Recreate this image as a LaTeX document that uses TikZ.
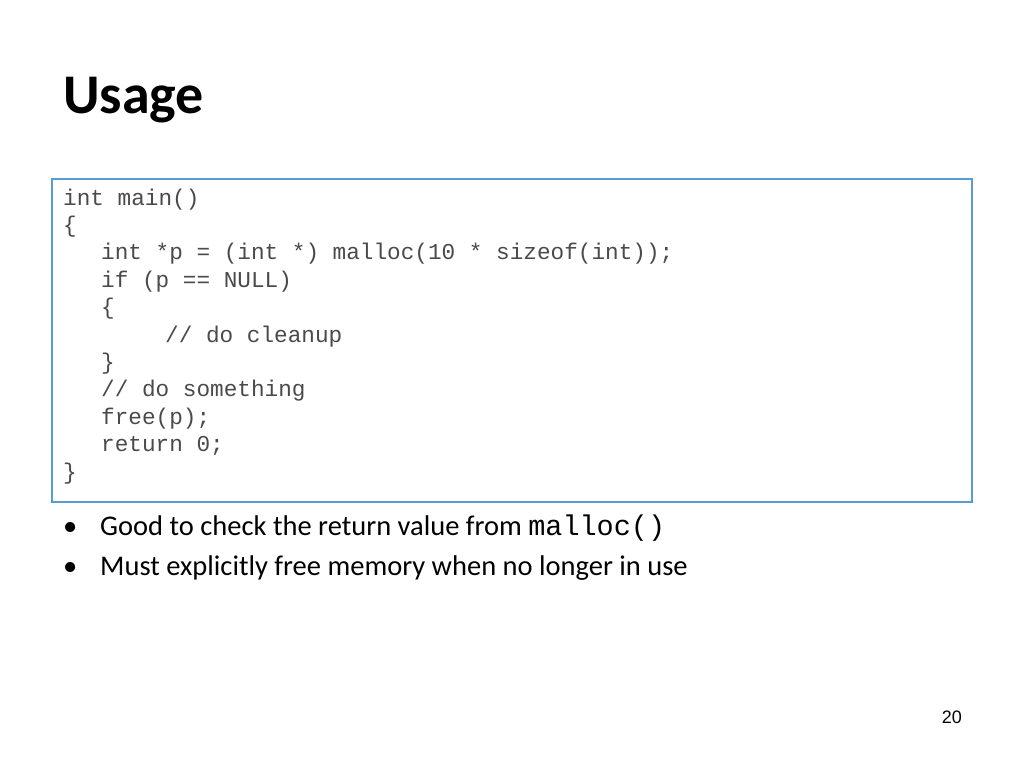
\documentclass[tikz,border=0pt]{standalone}
\usepackage{fontspec}
\setmainfont{Carlito}
\setmonofont{Liberation Mono}
\newfontfamily\pagefont{Liberation Sans}
\usetikzlibrary{positioning}
\definecolor{boxblue}{HTML}{5B9BD5}
\definecolor{codegray}{HTML}{4A4A4A}
\tikzset{
	codeline/.style={anchor=base west, inner sep=0pt, text=codegray, font=\ttfamily\fontsize{22.7bp}{27.4bp}\selectfont},
	bullettext/.style={anchor=base west, inner sep=0pt, font=\fontsize{28.5bp}{34bp}\selectfont}
}

\begin{document}
\begin{tikzpicture}[x=1bp, y=-1bp]
			%%%%% START %%%%%
			
			\useasboundingbox (0, 0) rectangle (1024, 768);
			
			\node[anchor=base west, inner sep=0pt, font=\bfseries\fontsize{56bp}{60bp}\selectfont] (title) at (63, 113) {Usage};
			
			\draw[boxblue, line width=1.2bp] (52, 179) rectangle (972, 502);
			
			\foreach \i/\x/\t in {0/63/{int main()}, 1/63/{\{}, 2/101/{int *p = (int *) malloc(10 * sizeof(int));},
				3/101/{if (p == NULL)}, 4/101/{\{}, 5/165/{// do cleanup}, 6/101/{\}},
				7/101/{// do something}, 8/101/{free(p);}, 9/101/{return 0;}, 10/63/{\}}}
				\node[codeline] (code\i) at (\x, 205 + 27.4*\i) {\t};
			
			\node[bullettext] (dot1) at (63, 535) {\textbullet};
			\node[bullettext] (item1) at (100, 535) {Good to check the return value from \texttt{malloc()}};
			\node[bullettext] (dot2) at (63, 575) {\textbullet};
			\node[bullettext] (item2) at (100, 575) {Must explicitly free memory when no longer in use};
			
			\node[anchor=base east, inner sep=0pt, font=\pagefont\fontsize{18bp}{20bp}\selectfont] (pagenum) at (962, 723) {20};
			
			%%%%% END %%%%%
		\end{tikzpicture}
\end{document}
